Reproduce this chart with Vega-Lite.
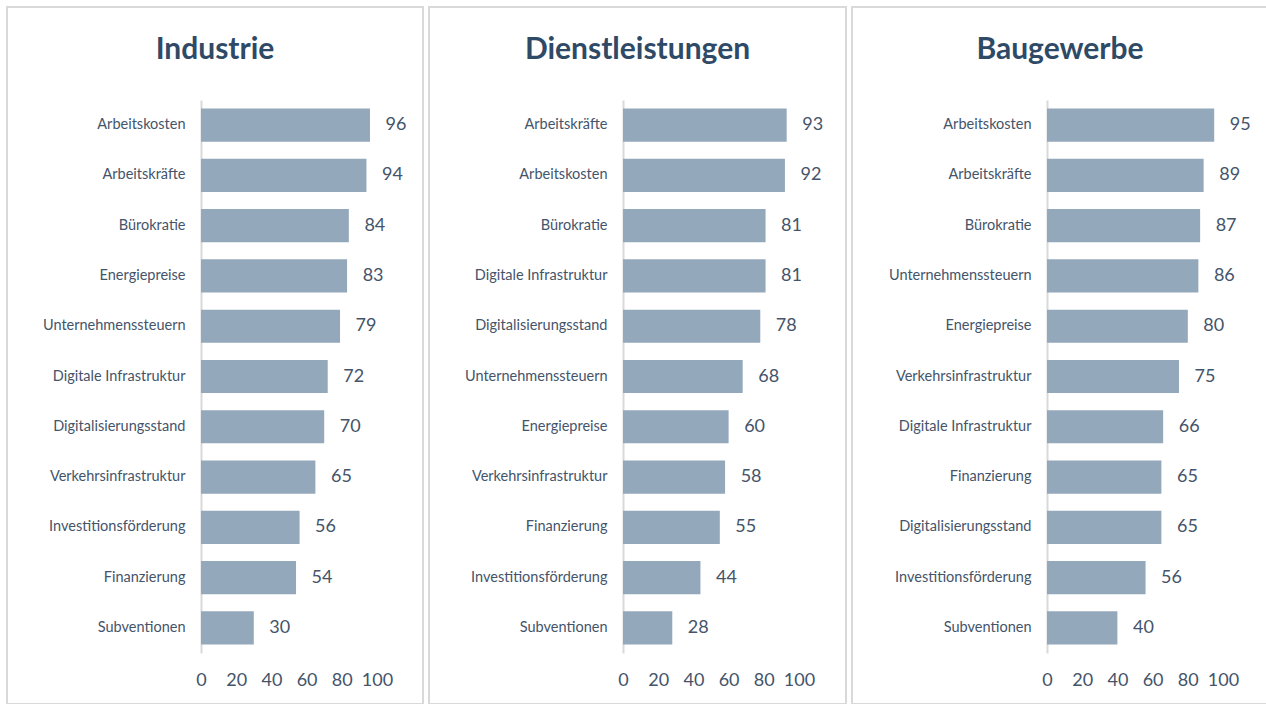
{
  "$schema": "https://vega.github.io/schema/vega-lite/v6.json",
  "padding": {"left": 6, "top": 6, "right": 0, "bottom": 0},
  "background": "white",
  "spacing": 4,
  "datasets": {
    "industrie": [
      {"Faktor": "Arbeitskosten", "Wert": 96},
      {"Faktor": "Arbeitskräfte", "Wert": 94},
      {"Faktor": "Bürokratie", "Wert": 84},
      {"Faktor": "Energiepreise", "Wert": 83},
      {"Faktor": "Unternehmenssteuern", "Wert": 79},
      {"Faktor": "Digitale Infrastruktur", "Wert": 72},
      {"Faktor": "Digitalisierungsstand", "Wert": 70},
      {"Faktor": "Verkehrsinfrastruktur", "Wert": 65},
      {"Faktor": "Investitionsförderung", "Wert": 56},
      {"Faktor": "Finanzierung", "Wert": 54},
      {"Faktor": "Subventionen", "Wert": 30}
    ],
    "dienstleistungen": [
      {"Faktor": "Arbeitskräfte", "Wert": 93},
      {"Faktor": "Arbeitskosten", "Wert": 92},
      {"Faktor": "Bürokratie", "Wert": 81},
      {"Faktor": "Digitale Infrastruktur", "Wert": 81},
      {"Faktor": "Digitalisierungsstand", "Wert": 78},
      {"Faktor": "Unternehmenssteuern", "Wert": 68},
      {"Faktor": "Energiepreise", "Wert": 60},
      {"Faktor": "Verkehrsinfrastruktur", "Wert": 58},
      {"Faktor": "Finanzierung", "Wert": 55},
      {"Faktor": "Investitionsförderung", "Wert": 44},
      {"Faktor": "Subventionen", "Wert": 28}
    ],
    "baugewerbe": [
      {"Faktor": "Arbeitskosten", "Wert": 95},
      {"Faktor": "Arbeitskräfte", "Wert": 89},
      {"Faktor": "Bürokratie", "Wert": 87},
      {"Faktor": "Unternehmenssteuern", "Wert": 86},
      {"Faktor": "Energiepreise", "Wert": 80},
      {"Faktor": "Verkehrsinfrastruktur", "Wert": 75},
      {"Faktor": "Digitale Infrastruktur", "Wert": 66},
      {"Faktor": "Finanzierung", "Wert": 65},
      {"Faktor": "Digitalisierungsstand", "Wert": 65},
      {"Faktor": "Investitionsförderung", "Wert": 56},
      {"Faktor": "Subventionen", "Wert": 40}
    ]
  },
  "config": {
    "view": {"stroke": "#D9D9D9", "strokeWidth": 2},
    "axis": {"labelFont": "Lato", "labelColor": "#44546A", "grid": false, "ticks": false, "tickSize": 0, "title": null},
    "title": {"font": "Lato", "fontSize": 30, "fontWeight": "bold", "color": "#2F4A66", "anchor": "middle", "frame": "group", "offset": -58, "baseline": "middle"},
    "text": {"font": "Lato"}
  },
  "hconcat": [
    {
      "title": {"text": "Industrie"},
      "width": 416, "height": 697,
      "data": {"name": "industrie"},
      "encoding": {
        "y": {"field": "Faktor", "type": "nominal", "sort": null,
              "scale": {"range": [93, 646], "paddingInner": 0.34, "paddingOuter": 0.17},
              "axis": {"orient": "left", "offset": -194, "domainColor": "#D9D9D9", "domainWidth": 2, "labelFontSize": 14.5, "labelPadding": 16, "labelLimit": 0}},
        "x": {"field": "Wert", "type": "quantitative",
              "scale": {"domain": [0, 100], "range": [194, 370]},
              "axis": {"orient": "bottom", "offset": -24, "domain": false, "labelPadding": 0, "labelBaseline": "middle", "labelFontSize": 18, "values": [0, 20, 40, 60, 80, 100], "labelOverlap": false, "labelFlush": false}}
      },
      "layer": [
        {"mark": {"type": "bar", "color": "#94A8BC"}},
        {"mark": {"type": "text", "align": "center", "baseline": "middle", "dx": 26, "fontSize": 18, "color": "#44546A"}, "encoding": {"text": {"field": "Wert"}}}
      ]
    },
    {
      "title": {"text": "Dienstleistungen"},
      "width": 417, "height": 697,
      "data": {"name": "dienstleistungen"},
      "encoding": {
        "y": {"field": "Faktor", "type": "nominal", "sort": null,
              "scale": {"range": [93, 646], "paddingInner": 0.34, "paddingOuter": 0.17},
              "axis": {"orient": "left", "offset": -194, "domainColor": "#D9D9D9", "domainWidth": 2, "labelFontSize": 14.5, "labelPadding": 16, "labelLimit": 0}},
        "x": {"field": "Wert", "type": "quantitative",
              "scale": {"domain": [0, 100], "range": [194, 370]},
              "axis": {"orient": "bottom", "offset": -24, "domain": false, "labelPadding": 0, "labelBaseline": "middle", "labelFontSize": 18, "values": [0, 20, 40, 60, 80, 100], "labelOverlap": false, "labelFlush": false}}
      },
      "layer": [
        {"mark": {"type": "bar", "color": "#94A8BC"}},
        {"mark": {"type": "text", "align": "center", "baseline": "middle", "dx": 26, "fontSize": 18, "color": "#44546A"}, "encoding": {"text": {"field": "Wert"}}}
      ]
    },
    {
      "title": {"text": "Baugewerbe"},
      "width": 416, "height": 697,
      "data": {"name": "baugewerbe"},
      "encoding": {
        "y": {"field": "Faktor", "type": "nominal", "sort": null,
              "scale": {"range": [93, 646], "paddingInner": 0.34, "paddingOuter": 0.17},
              "axis": {"orient": "left", "offset": -195, "domainColor": "#D9D9D9", "domainWidth": 2, "labelFontSize": 14.5, "labelPadding": 16, "labelLimit": 0}},
        "x": {"field": "Wert", "type": "quantitative",
              "scale": {"domain": [0, 100], "range": [195, 371]},
              "axis": {"orient": "bottom", "offset": -24, "domain": false, "labelPadding": 0, "labelBaseline": "middle", "labelFontSize": 18, "values": [0, 20, 40, 60, 80, 100], "labelOverlap": false, "labelFlush": false}}
      },
      "layer": [
        {"mark": {"type": "bar", "color": "#94A8BC"}},
        {"mark": {"type": "text", "align": "center", "baseline": "middle", "dx": 26, "fontSize": 18, "color": "#44546A"}, "encoding": {"text": {"field": "Wert"}}}
      ]
    }
  ]
}
